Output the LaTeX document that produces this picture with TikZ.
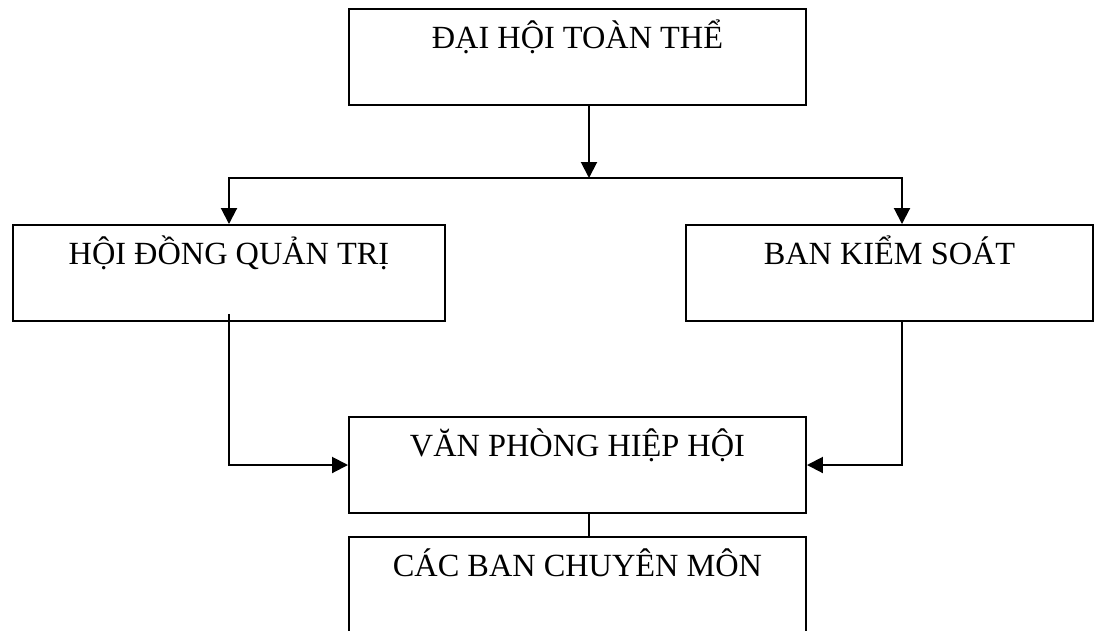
\documentclass[tikz,border=0pt]{standalone}
\usepackage{fontspec}
\setmainfont{Liberation Serif}
\usetikzlibrary{positioning, arrows.meta, calc}

\tikzset{
    box/.style={draw, line width=1.4pt, minimum height=2.4cm, inner sep=0pt},
    title/.style={anchor=base, yshift=-1.0cm, font=\fontsize{23}{28}\selectfont},
    arr/.style={line width=1.4pt, -{Triangle[length=0.4cm, width=0.4cm]}}
}

\begin{document}
\begin{tikzpicture}[line width=1.4pt]
    % Fix the page size and cut the lowest box at the bottom edge
    \useasboundingbox (0,0) rectangle (27.35,-15.75);
    \clip (0,0) rectangle (27.35,-15.75);

    % The boxes
    \node[box, minimum width=11.425cm,
          label={[title]north:ĐẠI HỘI TOÀN THỂ}] (dhtt) at (14.4375,-1.425) {};
    \node[box, minimum width=10.8cm,
          label={[title]north:HỘI ĐỒNG QUẢN TRỊ}] (hdqt) at (5.725,-6.825) {};
    \node[box, minimum width=10.175cm,
          label={[title]north:BAN KIỂM SOÁT}] (bks) at (22.2375,-6.825) {};
    \node[box, minimum width=11.425cm,
          label={[title]north:VĂN PHÒNG HIỆP HỘI}] (vphh) at (14.4375,-11.625) {};
    \node[box, minimum width=11.425cm, minimum height=4cm,
          label={[title]north:CÁC BAN CHUYÊN MÔN}] (cbcm) at (14.4375,-15.425) {};

    % Split point below the top box
    \coordinate (split) at (14.725,-4.45);

    % Top box down to the split, then out to both sides
    \draw[arr] (dhtt.south -| split) -- (split);
    \draw[arr] (split) -| (hdqt.north);
    \draw[arr] (split) -| ([xshift=0.3125cm]bks.north);

    % Both side boxes into the office
    \draw[arr] ([yshift=0.2cm]hdqt.south) |- (vphh.west);
    \draw[arr] ([xshift=0.3125cm]bks.south) |- (vphh.east);

    % Office to the committees
    \draw ([xshift=0.2875cm]vphh.south) -- ([xshift=0.2875cm]cbcm.north);
\end{tikzpicture}
\end{document}
